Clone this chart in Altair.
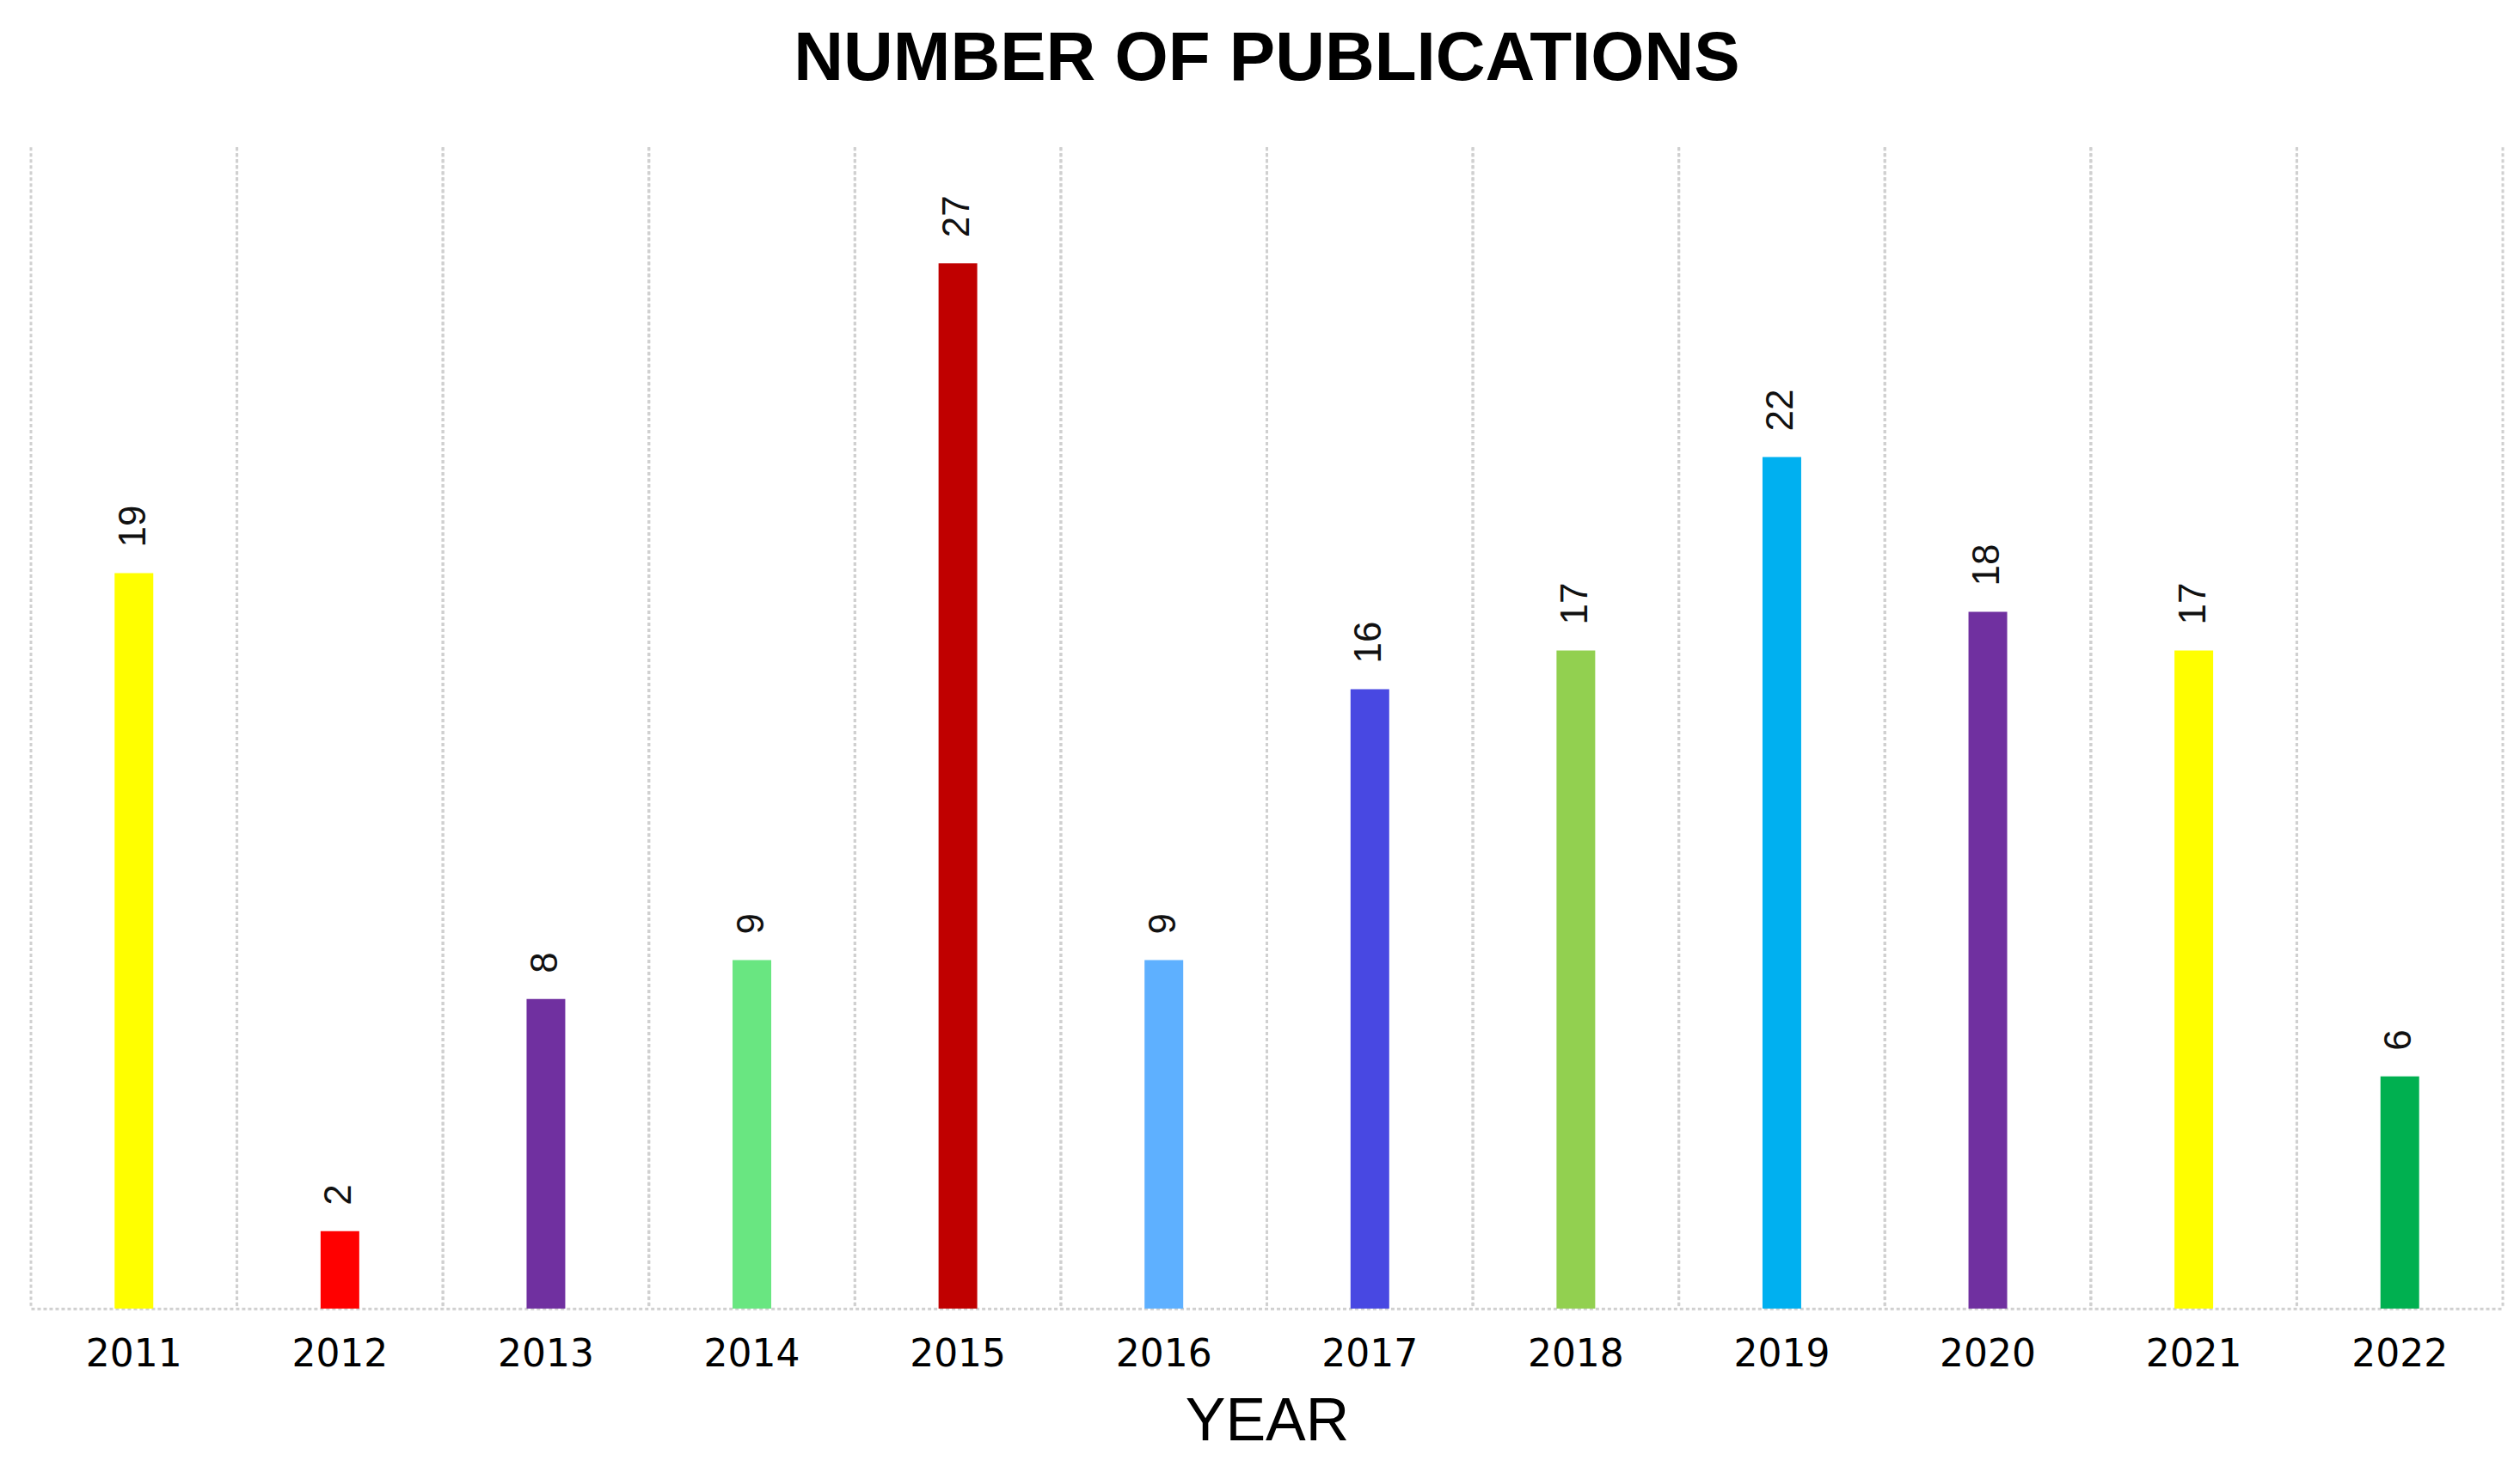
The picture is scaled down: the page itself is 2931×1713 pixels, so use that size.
import altair as alt
import pandas as pd

years = ["2011", "2012", "2013", "2014", "2015", "2016", "2017", "2018", "2019", "2020", "2021", "2022"]
counts = [19, 2, 8, 9, 27, 9, 16, 17, 22, 18, 17, 6]
colors = ["#FFFF00", "#FF0000", "#7030A0", "#69E681", "#C00000", "#5EB0FF",
          "#4848E2", "#92D050", "#00B0F0", "#7030A0", "#FFFF00", "#00B050"]

df = pd.DataFrame({"year": years, "count": counts, "color": colors})

W, H = 2876, 1351
xscale = alt.Scale(domain=years, paddingInner=0, paddingOuter=0)
yscale = alt.Scale(domain=[0, 30], nice=False)

xaxis = alt.Axis(title="YEAR", labelAngle=0, labelAlign="center", bandPosition=0.5,
                 labelFont="DejaVu Sans", labelFontSize=44, labelColor="#000000",
                 labelPadding=32, ticks=False, grid=False, domain=True,
                 domainColor="#D0D0D0", domainWidth=3, domainDash=[4, 3],
                 titleFont="Liberation Sans", titleFontSize=70,
                 titleFontWeight="normal", titleColor="#000000", titlePadding=22)

base = alt.Chart(df)

bars = base.mark_bar(size=45).encode(
    x=alt.X("year:N", scale=xscale, axis=xaxis),
    y=alt.Y("count:Q", scale=yscale, axis=None),
    color=alt.Color("color:N", scale=None),
)

grid_left = base.mark_rule(color="#D0D0D0", strokeWidth=3, strokeDash=[4, 3]).encode(
    x=alt.X("year:N", scale=xscale, bandPosition=0),
    y=alt.value(0),
    y2=alt.value(H),
)
grid_right = base.mark_rule(color="#D0D0D0", strokeWidth=3, strokeDash=[4, 3]).encode(
    x=alt.X("year:N", scale=xscale, bandPosition=1),
    y=alt.value(0),
    y2=alt.value(H),
)

labels = base.mark_text(angle=270, align="left", baseline="middle", dx=30,
                        font="Liberation Sans", fontSize=44, color="#111111").encode(
    x=alt.X("year:N", scale=xscale),
    y=alt.Y("count:Q", scale=yscale),
    text=alt.Text("count:Q"),
)

chart = alt.layer(bars, grid_left, grid_right, labels).properties(
    width=W, height=H,
    background="white",
    padding={"left": 26, "top": 20, "right": 10, "bottom": 10},
    title=alt.TitleParams("NUMBER OF PUBLICATIONS", font="Liberation Sans", fontSize=80,
                          fontWeight="bold", color="#000000", anchor="middle", offset=60),
).configure_view(stroke=None)

chart.save("out.html", embed_options={"renderer": "svg", "actions": False})
